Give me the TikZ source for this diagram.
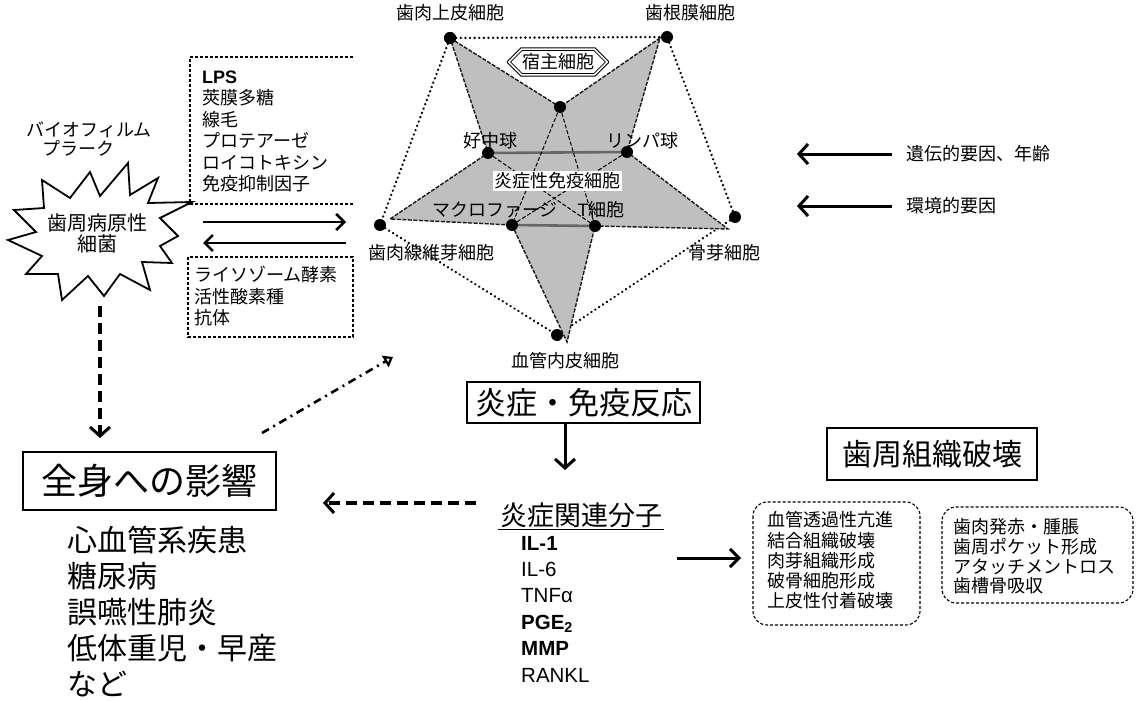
\documentclass[tikz,border=0pt]{standalone}
\usepackage{fontspec}
\setmainfont{Noto Sans CJK JP}
\newfontfamily\lat{Liberation Sans}
\usetikzlibrary{arrows.meta,shapes.misc,calc}
\newcommand\myfs[2]{\fontsize{#1}{#2}\selectfont}
\begin{document}
\begin{tikzpicture}[x=1pt,y=-1pt,
 lbl/.style={font=\myfs{18}{21}, inner sep=1pt},
 dotn/.style={circle, fill=black, inner sep=0pt, minimum size=12pt},
 dotline/.style={line width=2.6pt, dash pattern=on 0.01pt off 4.6pt, line cap=round},
 arr/.style={line width=2.6pt, -{Straight Barb[length=8pt,width=16pt]}},
 bigdash/.style={line width=4pt, dash pattern=on 11pt off 6pt, -{Straight Barb[length=9pt,width=20pt,line width=3pt]}},
 boxed/.style={draw, line width=2.4pt, inner sep=0pt},
 dbox/.style={draw, dash pattern=on 3pt off 2pt, line width=1.1pt},
 starfill/.style={fill=black!25, draw=black!90, dash pattern=on 4pt off 1.5pt, line width=1.4pt},
 innerdash/.style={draw=black, dash pattern=on 4pt off 2pt, line width=1pt},
 innergray/.style={draw=black!60, line width=2.6pt}
]
\useasboundingbox[fill=white] (0,0) rectangle (1141,701);

% ---------- pentagram geometry ----------
\coordinate (P1) at (450,38);
\coordinate (P2) at (660,38);
\coordinate (P3) at (728,229);
\coordinate (P4) at (567,342);
\coordinate (P5) at (390,219);
\coordinate (Q0) at (560,107);
\coordinate (QN) at (488,153);
\coordinate (QL) at (627,152);
\coordinate (QM) at (512,225);
\coordinate (QT) at (595,226);

% outer dots
\node[dotn] (A) at (450,38) {};
\node[dotn] (B) at (667,37) {};
\node[dotn] (C) at (735,217) {};
\node[dotn] (D) at (557,335) {};
\node[dotn] (E) at (380,225) {};

% dotted pentagon
\draw[dotline] (A) -- (B);
\draw[dotline] (A) -- (E);
\draw[dotline] (B) -- (C);
\draw[dotline] (E) -- (D);
\draw[dotline] (C) -- (D);

% star
\path[starfill] (P1) -- (Q0) -- (P2) -- (QL) -- (P3) -- (QT) -- (P4) -- (QM) -- (P5) -- (QN) -- cycle;

% inner dots
\node[dotn] (T0) at (Q0) {};
\node[dotn] (N) at (QN) {};
\node[dotn] (L) at (QL) {};
\node[dotn] (M) at (QM) {};
\node[dotn] (Tc) at (QT) {};

% inner lines
\draw[innergray] (N) -- (L);
\draw[innergray] (M) -- (Tc);
\draw[innerdash] (T0) -- (M);
\draw[innerdash] (T0) -- (Tc);
\draw[innerdash] (N) -- (Tc);
\draw[innerdash] (L) -- (M);
\node[dotn] at (A) {};

% labels of the star
\node[lbl] (lA) at (450,13) {歯肉上皮細胞};
\node[lbl] (lB) at (690,13) {歯根膜細胞};
\node[draw, double, line width=1pt, double distance=1.6pt, chamfered rectangle,
      chamfered rectangle xsep=9pt, minimum width=98pt, minimum height=24pt,
      inner sep=1pt, fill=white, font=\myfs{18}{21}] (host) at (558,62) {宿主細胞};
\node[lbl] (lN) at (490,141) {好中球};
\node[lbl] (lL) at (642,141) {リンパ球};
\node[lbl, fill=white, inner sep=1.5pt] (lI) at (557,181) {炎症性免疫細胞};
\node[lbl] (lM) at (495,210) {マクロファージ};
\node[lbl] (lT) at (601,210) {{\lat T}細胞};
\node[lbl] (lE) at (431,253) {歯肉線維芽細胞};
\node[lbl] (lC) at (724,253) {骨芽細胞};
\node[lbl] (lD) at (565,361) {血管内皮細胞};

% ---------- left part ----------
\node[lbl] (bio1) at (89,130) {バイオフィルム};
\node[lbl] (bio2) at (78,148) {プラーク};

\draw[line width=1.8pt, fill=white, line join=miter]
 (8,240) -- (36,232) -- (14,210) -- (44,208) -- (42,180) -- (70,198) -- (90,172)
 -- (100,196) -- (128,163) -- (130,195) -- (158,178) -- (148,203) -- (192,202)
 -- (160,218) -- (178,236) -- (160,246) -- (172,263) -- (142,262) -- (150,290)
 -- (120,274) -- (104,296) -- (88,276) -- (62,300) -- (58,274) -- (26,274)
 -- (42,256) -- cycle;
\node[font=\myfs{20}{24}, inner sep=1pt] (bac1) at (97,223) {歯周病原性};
\node[font=\myfs{20}{24}, inner sep=1pt] (bac2) at (97,244) {細菌};

% upper dashed box (open at right)
\draw[dbox] (353,57) -- (190,57) -- (190,204) -- (353,204);
\node[font=\myfs{18}{21.4}, align=left, anchor=west, inner sep=0pt] (vir) at (202,131.5)
 {{\lat\bfseries LPS}\\莢膜多糖\\線毛\\プロテアーゼ\\ロイコトキシン\\免疫抑制因子};

% arrows between bacteria and host
\coordinate (ra) at (203,222);
\coordinate (rb) at (346,222);
\coordinate (la) at (346,243);
\coordinate (lb) at (203,243);
\draw[arr] (ra) -- (rb);
\draw[arr] (la) -- (lb);

% lower dashed box
\draw[dbox] (188,257) rectangle (353,337);
\node[font=\myfs{18}{21.5}, align=left, anchor=west, inner sep=0pt] (def) at (194,296.5)
 {ライソゾーム酵素\\活性酸素種\\抗体};

% vertical dashed arrow
\coordinate (va) at (100,306);
\coordinate (vb) at (100,438);
\draw[bigdash] (va) -- (vb);

% systemic effect box
\node[boxed, minimum width=253pt, minimum height=58pt, font=\myfs{36}{40}] (sys) at (149.5,481) {全身への影響};
\node[font=\myfs{30}{36}, align=left, anchor=west, inner sep=0pt] (dis) at (67,612)
 {心血管系疾患\\糖尿病\\誤嚥性肺炎\\低体重児・早産\\など};

% dash-dot arrow
\coordinate (da) at (262,433);
\coordinate (db) at (393,357);
\draw[line width=2.6pt, dash pattern=on 8pt off 5pt on 2pt off 5pt,
      -{Triangle[open,length=9pt,width=13pt,line width=2.4pt]}] (da) -- (db);

% inflammation box
\node[boxed, minimum width=233pt, minimum height=41pt, font=\myfs{31}{35}] (inf) at (583.5,402.5) {炎症・免疫反応};
\coordinate (ia) at (565,423);
\coordinate (ib) at (565,470);
\draw[line width=3pt, -{Straight Barb[length=9pt,width=20pt]}] (ia) -- (ib);

% molecules
\node[font=\myfs{27}{30}, inner sep=2pt] (mol) at (581,515) {炎症関連分子};
\draw[line width=1.2pt] (mol.south west) -- (mol.south east);
\node[font={\lat\myfs{20.5}{26.4}}, align=left, anchor=west, inner sep=0pt] (cyt) at (521,609)
 {{\bfseries IL-1}\\IL-6\\TNFα\\{\bfseries PGE\textsubscript{2}}\\{\bfseries MMP}\\RANKL};

% dashed arrow to systemic box
\coordinate (ma) at (476,503);
\coordinate (mb) at (323,503);
\draw[bigdash] (ma) -- (mb);

% arrow to destruction
\coordinate (pa) at (677,558);
\coordinate (pb) at (741,558);
\draw[line width=3pt, -{Straight Barb[length=9pt,width=18pt]}] (pa) -- (pb);

% periodontal destruction
\node[boxed, line width=2.8pt, minimum width=210pt, minimum height=52pt, font=\myfs{30}{34}] (des) at (932,454) {歯周組織破壊};
\draw[dbox, rounded corners=14pt] (753,502) rectangle (920,625);
\node[font=\myfs{18}{20.3}, align=left, anchor=west, inner sep=0pt] (tis) at (767,560.5)
 {血管透過性亢進\\結合組織破壊\\肉芽組織形成\\破骨細胞形成\\上皮性付着破壊};
\draw[dbox, rounded corners=14pt] (942,507) rectangle (1133,603);
\node[font=\myfs{18}{19.7}, align=left, anchor=west, inner sep=0pt] (cli) at (953,556.5)
 {歯肉発赤・腫脹\\歯周ポケット形成\\アタッチメントロス\\歯槽骨吸収};

% right factors
\coordinate (fa1) at (892,154);
\coordinate (fb1) at (797,154);
\coordinate (fa2) at (892,206);
\coordinate (fb2) at (797,206);
\draw[line width=3pt, -{Straight Barb[length=9pt,width=20pt]}] (fa1) -- (fb1);
\draw[line width=3pt, -{Straight Barb[length=9pt,width=20pt]}] (fa2) -- (fb2);
\node[lbl, anchor=west] (g1) at (905,154) {遺伝的要因、年齢};
\node[lbl, anchor=west] (g2) at (905,206) {環境的要因};
\end{tikzpicture}
\end{document}
